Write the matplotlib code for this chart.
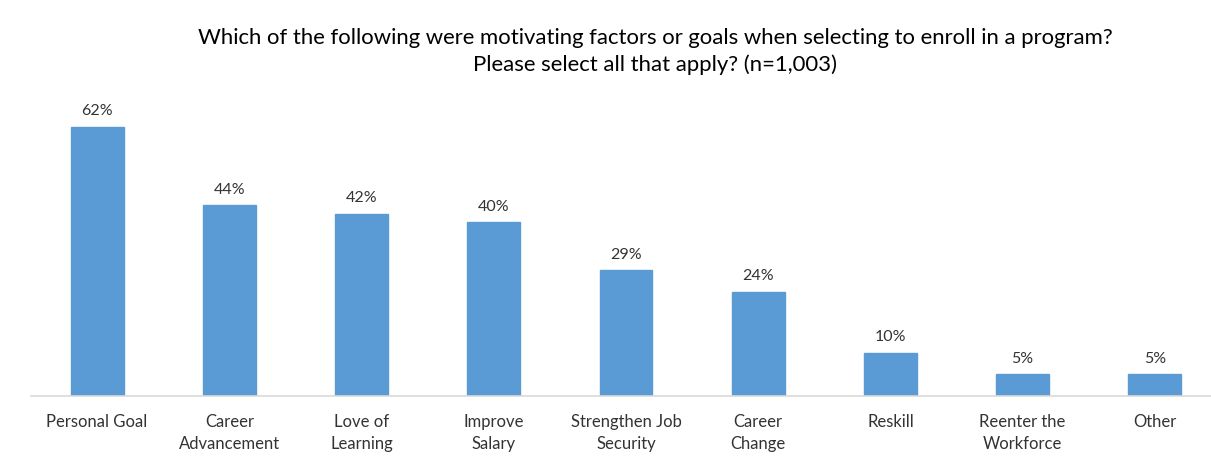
import matplotlib
matplotlib.use("Agg")
import matplotlib.pyplot as plt

categories = ["Personal Goal", "Career\nAdvancement", "Love of\nLearning", "Improve\nSalary",
              "Strengthen Job\nSecurity", "Career\nChange", "Reskill", "Reenter the\nWorkforce", "Other"]
values = [62, 44, 42, 40, 29, 24, 10, 5, 5]
value_labels = ["62%", "44%", "42%", "40%", "29%", "24%", "10%", "5%", "5%"]
title = ("Which of the following were motivating factors or goals when selecting to enroll in a program?\n"
         "Please select all that apply? (n=1,003)")

plt.rcParams["font.family"] = ["Lato", "DejaVu Sans"]

W, H = 1211, 467
fig = plt.figure(figsize=(W / 100, H / 100), dpi=100)
ax = fig.add_axes([31 / W, 1 - 396 / H, (1211 - 31) / W, 304 / H])

x = list(range(len(categories)))
ax.bar(x, values, width=0.4, color="#5B9BD5", edgecolor="#5B9BD5", zorder=2)
ax.set_ylim(0, 70)
ax.set_xlim(-0.5, 8.5 - 10 / 132)

for xi, v, lab in zip(x, values, value_labels):
    ax.annotate(lab, (xi, v), xytext=(0, 6), textcoords="offset points",
                ha="center", va="bottom", fontsize=11.5, color="#333333")

ax.set_xticks(x)
ax.set_xticklabels(categories, fontsize=12, color="#333333", linespacing=1.45)
ax.tick_params(axis="x", length=0, pad=13)
ax.set_yticks([])
for side in ["left", "right", "top"]:
    ax.spines[side].set_visible(False)
ax.spines["bottom"].set_color("#D9D9D9")
ax.spines["bottom"].set_linewidth(1.2)

fig.text(655 / W, 1 - 28 / H, title, ha="center", va="top", fontsize=15.9,
         color="#000000", linespacing=1.38)

fig.savefig("out.png", dpi=100, facecolor="white")
